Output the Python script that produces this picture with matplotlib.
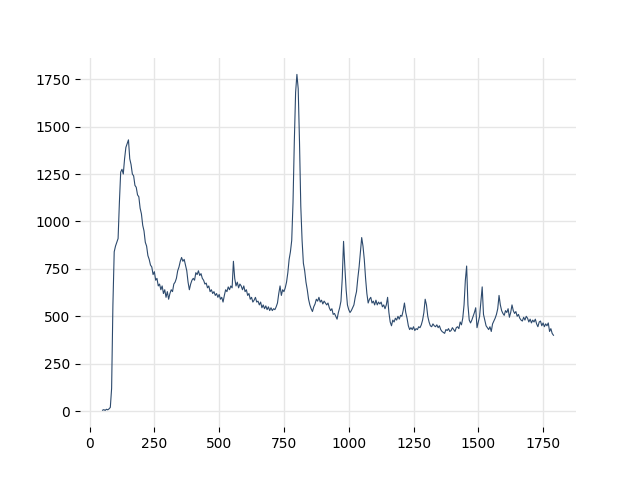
import numpy as np
import matplotlib
matplotlib.use("Agg")
import matplotlib.pyplot as plt

# spectrum sampled every 5 units starting at 50
x_start = 50
x_step = 5
intensity = [
    5, 8, 4, 10, 7, 12, 20, 120, 560, 840,
    870, 890, 910, 1100, 1260, 1275, 1250, 1330, 1390, 1410,
    1430, 1330, 1300, 1250, 1240, 1190, 1180, 1140, 1130, 1070,
    1040, 980, 950, 890, 870, 820, 800, 770, 760, 720,
    735, 690, 700, 660, 670, 640, 660, 620, 640, 600,
    630, 590, 620, 640, 630, 670, 680, 700, 740, 760,
    790, 810, 790, 800, 770, 740, 680, 640, 670, 690,
    700, 690, 730, 720, 740, 715, 725, 700, 690, 670,
    675, 650, 660, 630, 640, 620, 630, 610, 620, 600,
    615, 590, 600, 575, 610, 640, 630, 655, 640, 660,
    650, 790, 700, 660, 680, 650, 670, 660, 640, 660,
    630, 640, 610, 620, 590, 600, 575, 585, 600, 575,
    580, 560, 575, 545, 560, 540, 555, 535, 550, 530,
    545, 530, 540, 535, 550, 570, 620, 660, 610, 640,
    630, 650, 680, 730, 800, 840, 900, 1100, 1420, 1680,
    1775, 1700, 1420, 1080, 900, 780, 740, 680, 640, 590,
    560, 540, 525, 550, 565, 590, 580, 600, 575, 585,
    565, 580, 570, 560, 570, 545, 530, 540, 510, 515,
    500, 485, 520, 545, 580, 700, 895, 760, 640, 560,
    535, 520, 530, 545, 560, 600, 630, 700, 760, 840,
    915, 870, 800, 700, 620, 570, 590, 600, 570, 580,
    560, 585, 560, 575, 565, 575, 550, 560, 540, 560,
    600, 520, 470, 450, 480, 470, 490, 480, 500, 485,
    505, 500, 530, 570, 520, 490, 450, 430, 440, 430,
    445, 425, 435, 430, 445, 440, 455, 480, 520, 590,
    560, 500, 470, 450, 445, 460, 450, 445, 455, 440,
    450, 430, 420, 415, 410, 430, 425, 435, 420, 425,
    440, 430, 420, 440, 445, 435, 470, 455, 490, 560,
    690, 765, 560, 480, 465, 480, 500, 520, 545, 440,
    470, 500, 580, 655, 510, 480, 450, 440, 430, 445,
    420, 460, 475, 490, 510, 540, 610, 560, 530, 515,
    505, 530, 520, 540, 495, 520, 560, 530, 515, 525,
    500, 510, 490, 480, 475, 495, 480, 500, 490, 470,
    485, 465, 480, 470, 485, 460, 445, 470, 475, 450,
    465, 445, 460, 450, 465, 420, 435, 410, 400,
]
wavenumber = x_start + x_step * np.arange(len(intensity))

fig, ax = plt.subplots(figsize=(6.4, 4.8), dpi=100)
ax.plot(wavenumber, intensity, color='#2d4a6d', lw=0.8)
ax.grid(True, color='#e6e6e6', lw=1)
ax.set_axisbelow(True)
for s in ax.spines.values():
    s.set_visible(False)
fig.savefig('out.png')
